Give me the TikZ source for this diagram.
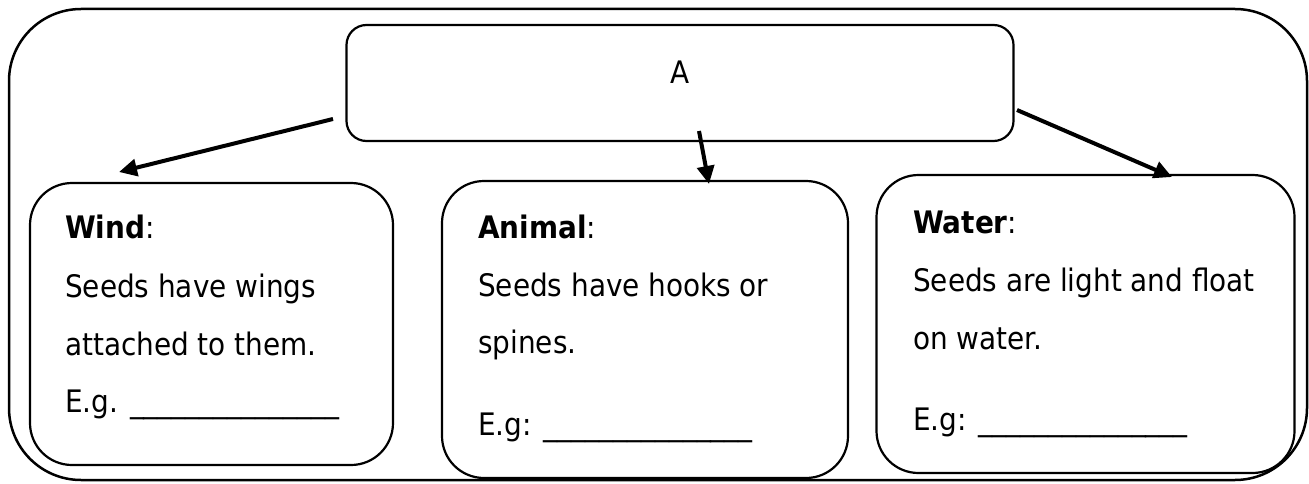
\documentclass[tikz,border=0pt]{standalone}
\usepackage{fontspec}
\setmainfont{DejaVu Sans Condensed}
\usetikzlibrary{arrows.meta}
\tikzset{
  outerbox/.style={draw, line width=2.5pt, rounded corners=72pt},
  bigbox/.style={draw, line width=2.2pt, rounded corners=20pt, inner sep=0pt},
  catbox/.style={draw, line width=2.2pt, rounded corners=42pt, inner sep=0pt},
  txt/.style={anchor=base west, inner sep=0pt, font=\fontsize{31}{36}\selectfont},
  conn/.style={line width=4pt, -{Triangle[length=18pt,width=17pt]}}
}
\begin{document}
\begin{tikzpicture}[x=1pt,y=1pt]
\useasboundingbox (0,0) rectangle (1309,483);
\draw[outerbox] (9,3) rectangle (1307,474);
\node[bigbox, minimum width=667pt, minimum height=116pt] (A) at (680,400) {};
\node[txt, anchor=base] (Atxt) at (680,399) {A};
\node[catbox, minimum width=363pt, minimum height=282pt] (wind) at (211.5,159) {};
\node[catbox, minimum width=406pt, minimum height=297pt] (animal) at (645,153.5) {};
\node[catbox, minimum width=418pt, minimum height=298pt] (water) at (1085.5,159) {};
% Wind texts
\node[txt] (w1) at (65,245) {\textbf{Wind}:};
\node[txt] (w2) at (65,186) {Seeds have wings};
\node[txt] (w3) at (65,128) {attached to them.};
\node[txt] (w4) at (65,71) {E.g. \_\_\_\_\_\_\_\_\_\_\_\_\_\_\_};
% Animal texts
\node[txt] (a1) at (478,245) {\textbf{Animal}:};
\node[txt] (a2) at (478,187) {Seeds have hooks or};
\node[txt] (a3) at (478,130) {spines.};
\node[txt] (a4) at (478,48) {E.g: \_\_\_\_\_\_\_\_\_\_\_\_\_\_\_};
% Water texts
\node[txt] (r1) at (913,250) {\textbf{Water}:};
\node[txt] (r2) at (913,192) {Seeds are light and float};
\node[txt] (r3) at (913,134) {on water.};
\node[txt] (r4) at (913,53) {E.g: \_\_\_\_\_\_\_\_\_\_\_\_\_\_\_};
% connector ends
\coordinate (sL) at (333,364);
\coordinate (eL) at (119,311);
\coordinate (sM) at (699,352);
\coordinate (eM) at (709,299);
\coordinate (sR) at (1017,373);
\coordinate (eR) at (1172,306);
\draw[conn] (sL) -- (eL);
\draw[conn] (sM) -- (eM);
\draw[conn] (sR) -- (eR);
\end{tikzpicture}
\end{document}
